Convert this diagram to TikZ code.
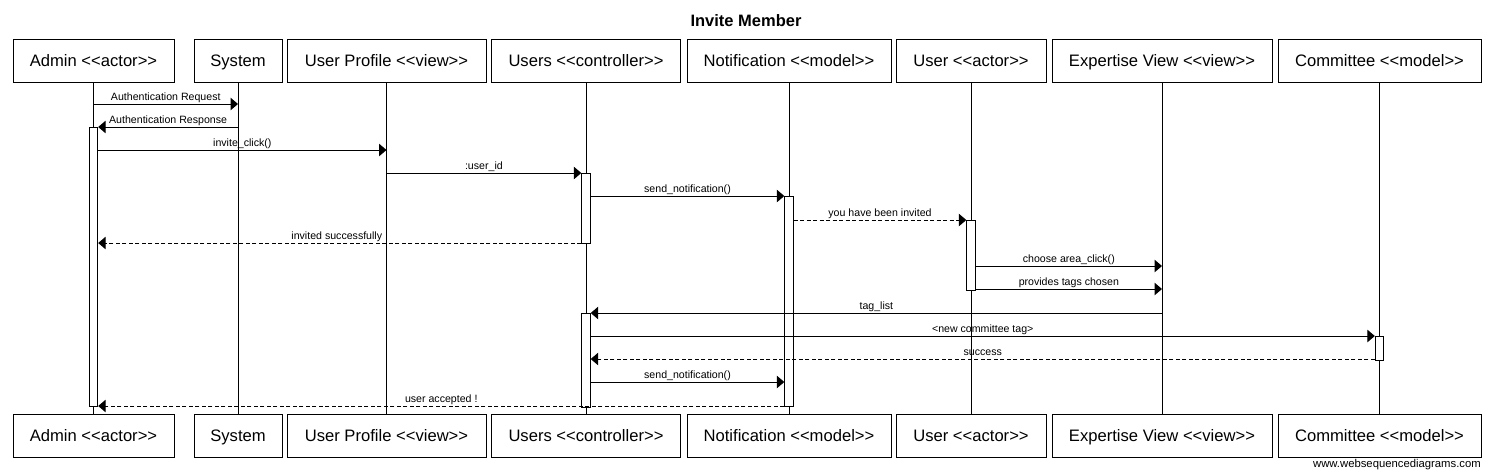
\documentclass[tikz,border=0pt]{standalone}
\usepackage{fontspec}
\setmainfont{Liberation Sans}
\usetikzlibrary{arrows.meta}
\begin{document}
\begin{tikzpicture}[x=1pt,y=-1pt,
  obj/.style={draw,line width=1pt,minimum height=43pt,inner sep=0pt,text height=11.9pt,text depth=0pt,font=\fontsize{16.6}{18}\selectfont},
  act/.style={draw,fill=white,line width=1pt,minimum width=8.4pt,inner sep=0pt},
  life/.style={line width=1pt},
  msg/.style={line width=1pt,-{Triangle[length=7.5pt,width=12.5pt]}},
  ret/.style={msg,dash pattern=on 4pt off 2.5pt},
  lbl/.style={font=\fontsize{10.6}{12}\selectfont,anchor=base,inner sep=0pt,yshift=3.3pt}
]
\useasboundingbox (0,0) rectangle (1491,475);
\fill[white] (0,0) rectangle (1491,475);

\node[font=\bfseries\fontsize{16.5}{18}\selectfont,anchor=base,inner sep=0pt] (title) at (746,26) {Invite Member};

% top objects
\node[obj,minimum width=161pt] (adminT) at (93.5,60.5) {Admin <{}<actor>{}>};
\node[obj,minimum width=88pt] (systemT) at (238,60.5) {System};
\node[obj,minimum width=199pt] (profileT) at (386.5,60.5) {User Profile <{}<view>{}>};
\node[obj,minimum width=189pt] (usersT) at (586,60.5) {Users <{}<controller>{}>};
\node[obj,minimum width=204pt] (notifT) at (789,60.5) {Notification <{}<model>{}>};
\node[obj,minimum width=150pt] (userT) at (971,60.5) {User <{}<actor>{}>};
\node[obj,minimum width=220pt] (expT) at (1162,60.5) {Expertise View <{}<view>{}>};
\node[obj,minimum width=203pt] (commT) at (1379.5,60.5) {Committee <{}<model>{}>};

% bottom objects
\node[obj,minimum width=161pt] (adminB) at (93.5,435.5) {Admin <{}<actor>{}>};
\node[obj,minimum width=88pt] (systemB) at (238,435.5) {System};
\node[obj,minimum width=199pt] (profileB) at (386.5,435.5) {User Profile <{}<view>{}>};
\node[obj,minimum width=189pt] (usersB) at (586,435.5) {Users <{}<controller>{}>};
\node[obj,minimum width=204pt] (notifB) at (789,435.5) {Notification <{}<model>{}>};
\node[obj,minimum width=150pt] (userB) at (971,435.5) {User <{}<actor>{}>};
\node[obj,minimum width=220pt] (expB) at (1162,435.5) {Expertise View <{}<view>{}>};
\node[obj,minimum width=203pt] (commB) at (1379.5,435.5) {Committee <{}<model>{}>};

% lifelines
\foreach \n in {admin,system,profile,users,notif,user,exp,comm}
  \draw[life] (\n T.south) -- (\n B.north);

% activation bars
\node[act,minimum height=279pt] (aAdmin) at (93.5,266.5) {};
\node[act,minimum height=70pt] (aUsers1) at (586,208) {};
\node[act,minimum height=210pt] (aNotif) at (789,301) {};
\node[act,minimum height=70pt] (aUser) at (971,255) {};
\node[act,minimum height=94pt] (aUsers2) at (586,360) {};
\node[act,minimum height=24pt] (aComm) at (1379.5,348) {};

% message levels
\coordinate (m1) at (0,104);
\coordinate (m2) at (0,127);
\coordinate (m3) at (0,150);
\coordinate (m4) at (0,173);
\coordinate (m5) at (0,196);
\coordinate (m6) at (0,220);
\coordinate (m7) at (0,243);
\coordinate (m8) at (0,266);
\coordinate (m9) at (0,289);
\coordinate (m10) at (0,313);
\coordinate (m11) at (0,336);
\coordinate (m12) at (0,359);
\coordinate (m13) at (0,382);
\coordinate (m14) at (0,406);

% messages
\draw[msg] (adminT.south |- m1) -- (systemT.south |- m1) node[midway,lbl] {Authentication Request};
\draw[msg] (systemT.south |- m2) -- (aAdmin.east |- m2) node[midway,lbl] {Authentication Response};
\draw[msg] (aAdmin.east |- m3) -- (profileT.south |- m3) node[midway,lbl] {invite\_click()};
\draw[msg] (profileT.south |- m4) -- (aUsers1.west |- m4) node[midway,lbl] {:user\_id};
\draw[msg] (aUsers1.east |- m5) -- (aNotif.west |- m5) node[midway,lbl] {send\_notification()};
\draw[ret] (aNotif.east |- m6) -- (aUser.west |- m6) node[midway,lbl] {you have been invited};
\draw[ret] (aUsers1.west |- m7) -- (aAdmin.east |- m7) node[midway,lbl] {invited successfully !};
\draw[msg] (aUser.east |- m8) -- (expT.south |- m8) node[midway,lbl] {choose area\_click()};
\draw[msg] (aUser.east |- m9) -- (expT.south |- m9) node[midway,lbl] {provides tags chosen};
\draw[msg] (expT.south |- m10) -- (aUsers2.east |- m10) node[midway,lbl] {tag\_list};
\draw[msg] (aUsers2.east |- m11) -- (aComm.west |- m11) node[midway,lbl] {<new committee tag>};
\draw[ret] (aComm.west |- m12) -- (aUsers2.east |- m12) node[midway,lbl] {success};
\draw[msg] (aUsers2.east |- m13) -- (aNotif.west |- m13) node[midway,lbl] {send\_notification()};
\draw[ret] (aNotif.west |- m14) -- (aAdmin.east |- m14) node[midway,lbl] {user accepted !};

\node[anchor=base east,inner sep=0pt,font=\fontsize{11.3}{13}\selectfont] (footer) at (1481,467) {www.websequencediagrams.com};
\end{tikzpicture}
\end{document}
